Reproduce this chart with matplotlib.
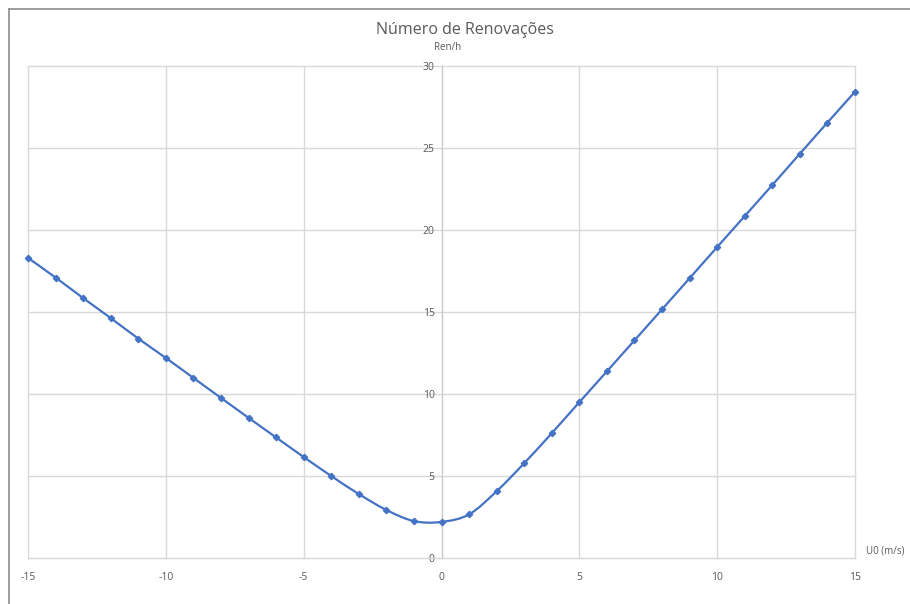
import matplotlib
matplotlib.use("Agg")
import matplotlib.pyplot as plt
import numpy as np
from matplotlib.path import Path
from matplotlib.patches import PathPatch
from matplotlib.lines import Line2D

plt.rcParams["axes.unicode_minus"] = False

# Data
u0 = [-15, -14, -13, -12, -11, -10, -9, -8, -7, -6, -5, -4, -3, -2, -1, 0,
      1, 2, 3, 4, 5, 6, 7, 8, 9, 10, 11, 12, 13, 14, 15]
ren = [18.3, 17.1, 15.85, 14.63, 13.38, 12.2, 10.98, 9.76, 8.55, 7.35, 6.16, 5.0, 3.9, 2.93, 2.25, 2.2,
       2.66, 4.07, 5.78, 7.61, 9.5, 11.38, 13.27, 15.16, 17.06, 18.96, 20.85, 22.74, 24.65, 26.55, 28.43]
x_ticks = [-15, -10, -5, 0, 5, 10, 15]
y_ticks = [0, 5, 10, 15, 20, 25, 30]

title = "Número de Renovações"
ylab = "Ren/h"
xlab = "U0 (m/s)"

FONT = ["Open Sans", "DejaVu Sans"]
TXT = "#595959"
BLUE = "#4472C4"
GRID = "#d9d9d9"

fig = plt.figure(figsize=(9.10, 6.04), dpi=100)
fig.patch.set_facecolor("white")
ax = fig.add_axes([28/910, 1-558/604, (855-28)/910, (558-66)/604])
ax.set_xlim(-15, 15)
ax.set_ylim(0, 30)
ax.set_xticks(x_ticks)
ax.set_yticks(y_ticks)
ax.grid(True, color=GRID, lw=1.0, clip_on=False)
ax.set_axisbelow(True)
for s in ["top", "right"]:
    ax.spines[s].set_visible(False)
ax.spines["left"].set_position(("data", 0))
ax.spines["left"].set_color("#c8c8c8")
ax.spines["bottom"].set_color("#d9d9d9")
ax.tick_params(axis="both", length=0, labelsize=7.5, labelcolor=TXT)
ax.tick_params(axis="x", pad=10)
ax.tick_params(axis="y", pad=5)
for lbl in ax.get_xticklabels() + ax.get_yticklabels():
    lbl.set_family(FONT)

# Smoothed line (Catmull-Rom -> cubic Bezier, like Excel smoothing)
x = np.array(u0, float)
y = np.array(ren, float)
n = len(x)
verts = [(x[0], y[0])]
codes = [Path.MOVETO]
t = 1/6
for i in range(n - 1):
    p0 = (x[max(i-1, 0)], y[max(i-1, 0)])
    p1 = (x[i], y[i])
    p2 = (x[i+1], y[i+1])
    p3 = (x[min(i+2, n-1)], y[min(i+2, n-1)])
    c1 = (p1[0] + (p2[0]-p0[0])*t, p1[1] + (p2[1]-p0[1])*t)
    c2 = (p2[0] - (p3[0]-p1[0])*t, p2[1] - (p3[1]-p1[1])*t)
    verts += [c1, c2, p2]
    codes += [Path.CURVE4]*3
ax.add_patch(PathPatch(Path(verts, codes), fill=False, edgecolor=BLUE, lw=1.6, zorder=3, clip_on=False))
ax.plot(u0, ren, ls="none", marker="D", ms=3.2, color=BLUE, zorder=4, clip_on=False)

fig.text(465/910, 1-30/604, title, ha="center", va="center", fontsize=11.5, color=TXT, family=FONT)
fig.text(448/910, 1-47/604, ylab, ha="center", va="center", fontsize=7, color=TXT, family=FONT)
fig.text(866/910, 1-551/604, xlab, ha="left", va="center", fontsize=7, color=TXT, family=FONT)

# outer chart border (cropped)
fig.add_artist(Line2D([9/910, 9/910], [0, 1-9/604], transform=fig.transFigure, color="#8c8c8c", lw=1.2))
fig.add_artist(Line2D([9/910, 1], [1-9/604, 1-9/604], transform=fig.transFigure, color="#8c8c8c", lw=1.2))

fig.savefig("out.png", dpi=100)
